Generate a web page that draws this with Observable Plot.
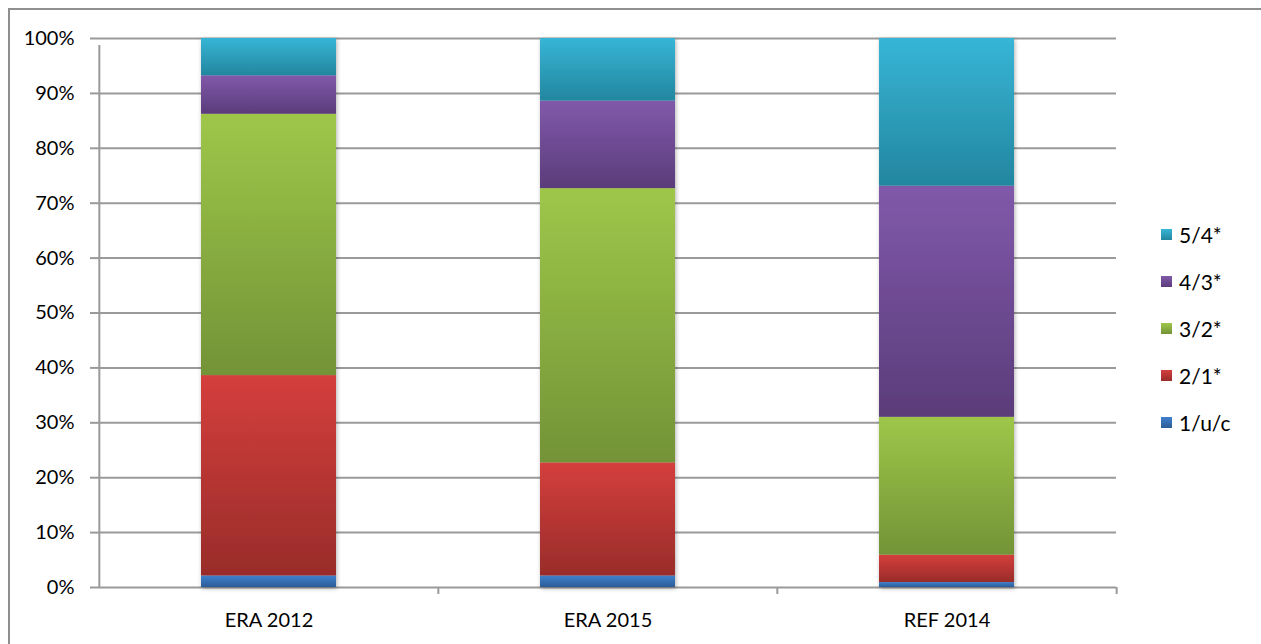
<!DOCTYPE html>
<html>
<head>
<meta charset="utf-8">
<script src="https://cdn.jsdelivr.net/npm/d3@7"></script>
<script src="https://cdn.jsdelivr.net/npm/@observablehq/plot@0.6"></script>
<style>
  html, body { margin: 0; padding: 0; background: #fff; }
  #wrap { position: relative; width: 1261px; height: 644px; overflow: hidden; font-family: Lato, sans-serif; }
  #border { position: absolute; left: 8px; top: 8px; right: -10px; bottom: -10px; border-top: 2px solid #8f8f8f; border-left: 2px solid #8f8f8f; pointer-events: none; }
  #legend { position: absolute; left: 1161px; top: 211px; font-size: 21px; color: #000; }
  .item { display: flex; align-items: center; height: 47px; }
  .sw { width: 11px; height: 11px; margin-right: 7px; box-sizing: border-box; }
</style>
</head>
<body>
<div id="wrap"><div id="border"></div><div id="legend"></div></div>
<script>
const categories = ["ERA 2012", "ERA 2015", "REF 2014"];
const series = ["1/u/c", "2/1*", "3/2*", "4/3*", "5/4*"];
const values_1uc = [2.1, 2.1, 0.9];
const values_21 = [36.5, 20.6, 5.0];
const values_32 = [47.6, 49.95, 25.1];
const values_43 = [7.0, 15.95, 42.1];
const values_54 = [6.8, 11.4, 26.9];
const yTicks = [0, 10, 20, 30, 40, 50, 60, 70, 80, 90, 100];

const seriesValues = [values_1uc, values_21, values_32, values_43, values_54];
const gradTop = ["#3f80cd", "#d43f3c", "#9ec749", "#8159aa", "#37b5d6"];
const gradBot = ["#2c5c96", "#992c2a", "#739337", "#5b3c7a", "#23869f"];
const gradIds = series.map((s, i) => `grad${i}`);

const data = [];
series.forEach((s, si) => categories.forEach((c, ci) => data.push({cat: c, series: s, value: seriesValues[si][ci]})));

const W = 1261, H = 644, mL = 98, mR = 145, mT = 38, mB = 57;
const step = (W - mL - mR) / categories.length;

const chart = Plot.plot({
  width: W, height: H,
  marginLeft: mL, marginRight: mR, marginTop: mT, marginBottom: mB,
  style: {fontFamily: "Lato, sans-serif", fontSize: "20px", color: "#000", background: "transparent", overflow: "visible"},
  x: {domain: categories, paddingInner: 0.602, paddingOuter: 0.301, label: null},
  y: {domain: [0, 100], label: null},
  color: {domain: series, range: gradIds.map(id => `url(#${id})`)},
  marks: [
    Plot.ruleY(yTicks, {stroke: "#9a9a9a", strokeWidth: 2}),
    Plot.ruleX([categories[0]], {dx: -step / 2, y1: 0, y2: 100, insetBottom: -7, stroke: "#9a9a9a", strokeWidth: 2}),
    Plot.ruleX(categories.slice(1), {dx: -step / 2, y1: 0, y2: 0, insetBottom: -7, stroke: "#9a9a9a", strokeWidth: 2}),
    Plot.ruleX([categories[categories.length - 1]], {dx: step / 2, y1: 0, y2: 0, insetBottom: -7, stroke: "#9a9a9a", strokeWidth: 2}),
    Plot.barY(data, {x: "cat", y: "value", fill: "series", order: series}),
    Plot.axisY({ticks: yTicks, tickSize: 8, tickPadding: 16, stroke: "#9a9a9a", strokeWidth: 2, tickFormat: d => d + "%", fontSize: 20}),
    Plot.axisX({tickSize: 0, tickPadding: 25, fontSize: 20})
  ]
});

const svg = d3.select(chart);
const defs = svg.insert("defs", ":first-child");
gradIds.forEach((id, i) => {
  const g = defs.append("linearGradient").attr("id", id).attr("x1", 0).attr("y1", 0).attr("x2", 0).attr("y2", 1);
  g.append("stop").attr("offset", "0%").attr("stop-color", gradTop[i]);
  g.append("stop").attr("offset", "100%").attr("stop-color", gradBot[i]);
});
const filt = defs.append("filter").attr("id", "shadow").attr("x", "-10%").attr("y", "-10%").attr("width", "120%").attr("height", "120%");
filt.append("feDropShadow").attr("dx", 1).attr("dy", 1.5).attr("stdDeviation", 2).attr("flood-color", "#000").attr("flood-opacity", 0.3);
svg.selectAll("g[aria-label='bar']").attr("filter", "url(#shadow)");

const wrap = document.getElementById("wrap");
wrap.insertBefore(chart, wrap.firstChild);
chart.style.position = "absolute";
chart.style.left = "0px";
chart.style.top = "0px";

const legend = d3.select("#legend");
series.slice().reverse().forEach((s) => {
  const i = series.indexOf(s);
  const item = legend.append("div").attr("class", "item");
  item.append("div").attr("class", "sw").style("background", `linear-gradient(${gradTop[i]}, ${gradBot[i]})`);
  item.append("span").text(s);
});
</script>
</body>
</html>
